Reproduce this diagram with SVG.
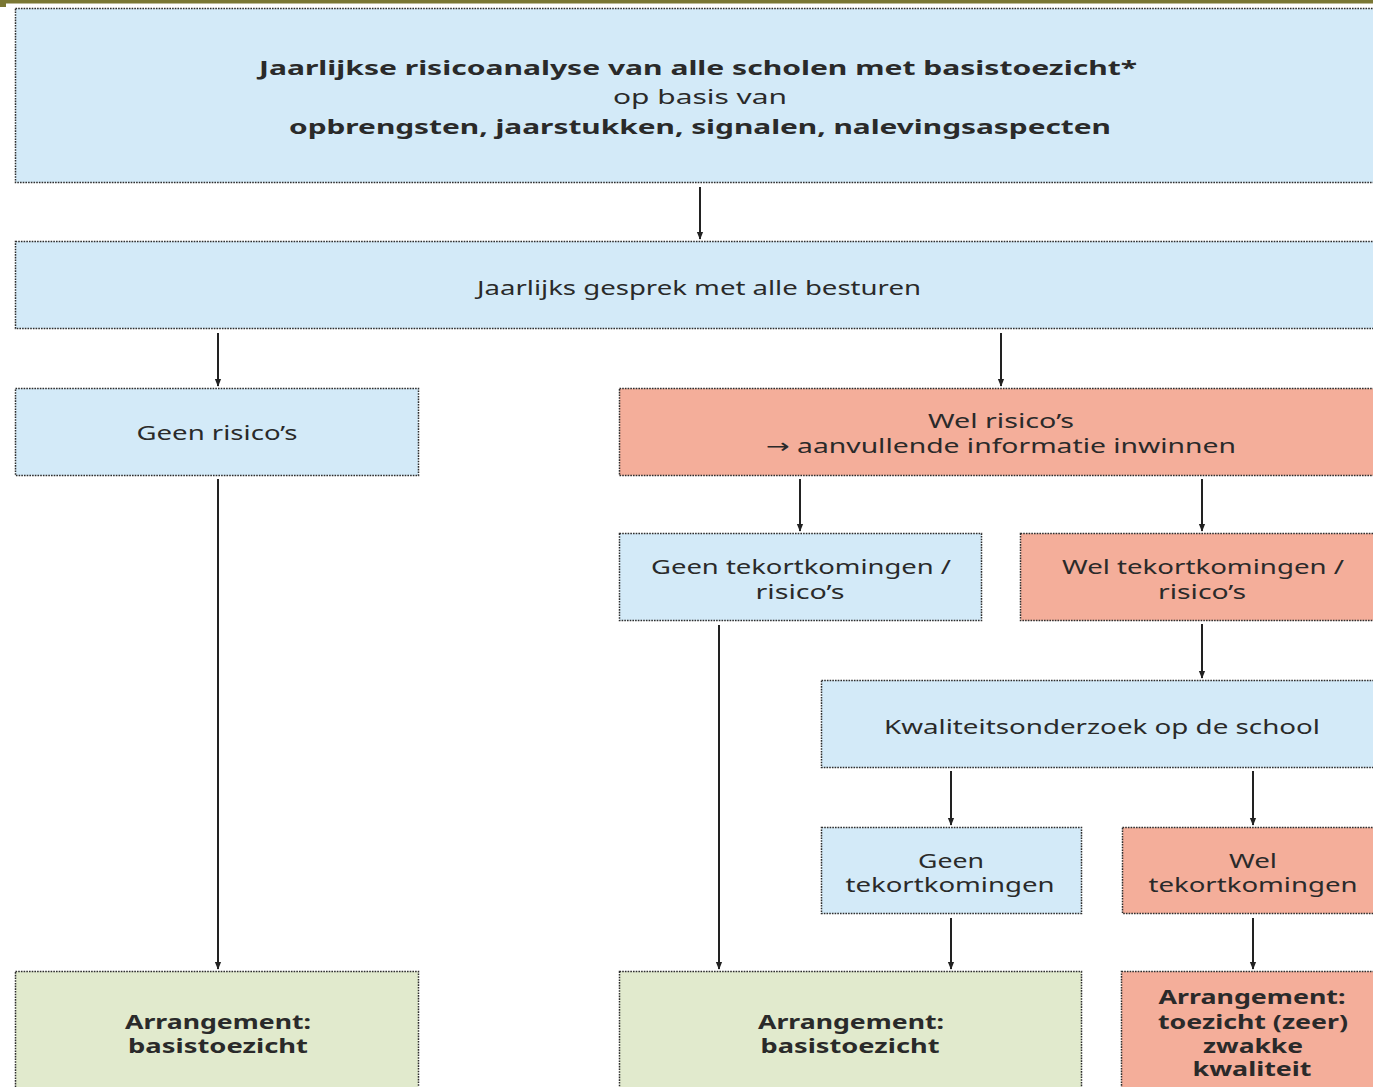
<svg xmlns="http://www.w3.org/2000/svg" width="1373" height="1087" viewBox="0 0 1373 1087">
<style>
.box{stroke:#2e2e2e;stroke-width:1.5;stroke-dasharray:1.6 1.1}
.blue{fill:#d3eaf8}
.red{fill:#f4ae9a}
.green{fill:#e1eacd}
text{font-family:"Noto Sans","Open Sans","DejaVu Sans",sans-serif;font-size:20px;fill:#2a2a2a;text-anchor:middle}
.b{font-weight:bold}
.conn line{stroke:#222;stroke-width:2}
</style>
<defs>
<marker id="ah" viewBox="0 0 10 10" refX="9" refY="5" markerWidth="8" markerHeight="8" orient="auto" markerUnits="userSpaceOnUse">
<path d="M0,1 L10,5 L0,9 Z" fill="#222"/>
</marker>
</defs>
<rect width="1373" height="1087" fill="#fff"/>
<rect x="0" y="0" width="1373" height="3.5" fill="#7a7733"/>
<rect x="0" y="0" width="6" height="7" fill="#7a7733"/>

<g id="n1"><rect class="box blue" x="15.5" y="8.5" width="1370" height="174"/>
<text class="b" x="698" y="75" textLength="878" lengthAdjust="spacingAndGlyphs">Jaarlijkse risicoanalyse van alle scholen met basistoezicht*</text>
<text x="700" y="104" textLength="174" lengthAdjust="spacingAndGlyphs">op basis van</text>
<text class="b" x="700" y="134" textLength="822" lengthAdjust="spacingAndGlyphs">opbrengsten, jaarstukken, signalen, nalevingsaspecten</text></g>

<g id="n2"><rect class="box blue" x="15.5" y="241.5" width="1370" height="87"/>
<text x="699" y="295" textLength="444" lengthAdjust="spacingAndGlyphs">Jaarlijks gesprek met alle besturen</text></g>

<g id="n3"><rect class="box blue" x="15.5" y="388.5" width="403" height="87"/>
<text x="217" y="440" textLength="161" lengthAdjust="spacingAndGlyphs">Geen risico’s</text></g>

<g id="n4"><rect class="box red" x="619.5" y="388.5" width="770" height="87"/>
<text x="1001" y="428" textLength="146" lengthAdjust="spacingAndGlyphs">Wel risico’s</text>
<text x="1001" y="453" textLength="470" lengthAdjust="spacingAndGlyphs">→ aanvullende informatie inwinnen</text></g>

<g id="n5"><rect class="box blue" x="619.5" y="533.5" width="362" height="87"/>
<text x="801" y="574" textLength="300" lengthAdjust="spacingAndGlyphs">Geen tekortkomingen /</text>
<text x="800" y="599" textLength="89" lengthAdjust="spacingAndGlyphs">risico’s</text></g>

<g id="n6"><rect class="box red" x="1020.5" y="533.5" width="370" height="87"/>
<text x="1203" y="574" textLength="282" lengthAdjust="spacingAndGlyphs">Wel tekortkomingen /</text>
<text x="1202" y="599" textLength="88" lengthAdjust="spacingAndGlyphs">risico’s</text></g>

<g id="n7"><rect class="box blue" x="821.5" y="680.5" width="570" height="87"/>
<text x="1102" y="734" textLength="436" lengthAdjust="spacingAndGlyphs">Kwaliteitsonderzoek op de school</text></g>

<g id="n8"><rect class="box blue" x="821.5" y="827.5" width="260" height="86"/>
<text x="951" y="868" textLength="66" lengthAdjust="spacingAndGlyphs">Geen</text>
<text x="950" y="892" textLength="209" lengthAdjust="spacingAndGlyphs">tekortkomingen</text></g>

<g id="n9"><rect class="box red" x="1122.5" y="827.5" width="270" height="86"/>
<text x="1253" y="868" textLength="48" lengthAdjust="spacingAndGlyphs">Wel</text>
<text x="1253" y="892" textLength="209" lengthAdjust="spacingAndGlyphs">tekortkomingen</text></g>

<g id="n10"><rect class="box green" x="15.5" y="971.5" width="403" height="130"/>
<text class="b" x="218" y="1029" textLength="186" lengthAdjust="spacingAndGlyphs">Arrangement:</text>
<text class="b" x="218" y="1053" textLength="180" lengthAdjust="spacingAndGlyphs">basistoezicht</text></g>

<g id="n11"><rect class="box green" x="619.5" y="971.5" width="462" height="130"/>
<text class="b" x="851" y="1029" textLength="186" lengthAdjust="spacingAndGlyphs">Arrangement:</text>
<text class="b" x="850" y="1053" textLength="179" lengthAdjust="spacingAndGlyphs">basistoezicht</text></g>

<g id="n12"><rect class="box red" x="1121.5" y="971.5" width="270" height="130"/>
<text class="b" x="1252" y="1004" textLength="187" lengthAdjust="spacingAndGlyphs">Arrangement:</text>
<text class="b" x="1253" y="1029" textLength="190" lengthAdjust="spacingAndGlyphs">toezicht (zeer)</text>
<text class="b" x="1253" y="1053" textLength="100" lengthAdjust="spacingAndGlyphs">zwakke</text>
<text class="b" x="1252" y="1076" textLength="119" lengthAdjust="spacingAndGlyphs">kwaliteit</text></g>

<g class="conn" id="connectors">
<line x1="700" y1="187" x2="700" y2="239" marker-end="url(#ah)"/>
<line x1="218" y1="333" x2="218" y2="386" marker-end="url(#ah)"/>
<line x1="1001" y1="333" x2="1001" y2="386" marker-end="url(#ah)"/>
<line x1="800" y1="479" x2="800" y2="531" marker-end="url(#ah)"/>
<line x1="1202" y1="479" x2="1202" y2="531" marker-end="url(#ah)"/>
<line x1="1202" y1="624" x2="1202" y2="678" marker-end="url(#ah)"/>
<line x1="951" y1="771" x2="951" y2="825" marker-end="url(#ah)"/>
<line x1="1253" y1="771" x2="1253" y2="825" marker-end="url(#ah)"/>
<line x1="218" y1="479" x2="218" y2="969" marker-end="url(#ah)"/>
<line x1="719" y1="625" x2="719" y2="969" marker-end="url(#ah)"/>
<line x1="951" y1="918" x2="951" y2="969" marker-end="url(#ah)"/>
<line x1="1253" y1="918" x2="1253" y2="969" marker-end="url(#ah)"/>
</g>
</svg>
